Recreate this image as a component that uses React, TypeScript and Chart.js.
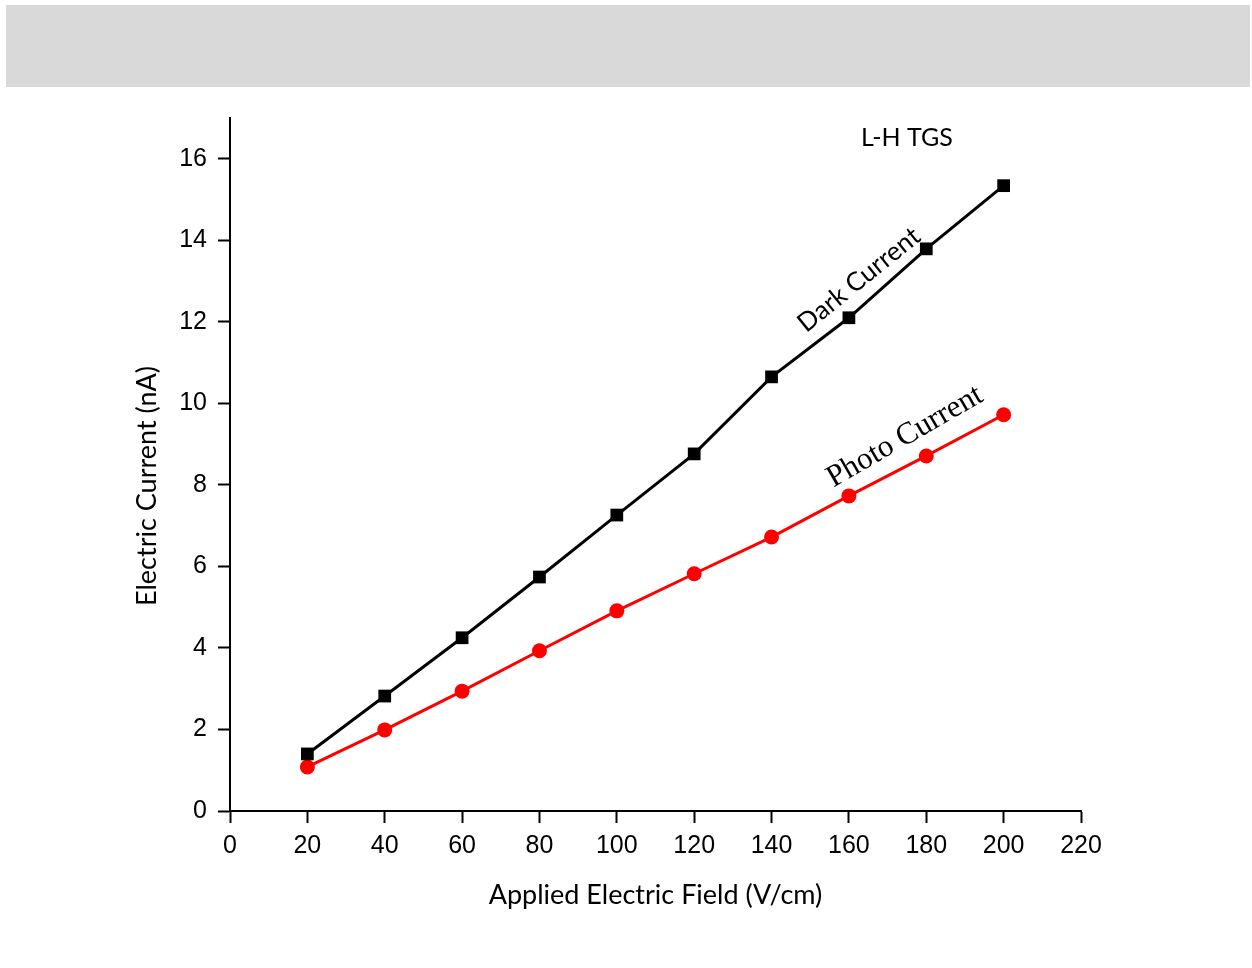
import React, { useEffect, useRef } from 'react';
import { Chart, registerables } from 'chart.js';

Chart.register(...registerables);

// ---- data ----
const fieldValues = [20, 40, 60, 80, 100, 120, 140, 160, 180, 200];
const darkCurrent = [1.4, 2.82, 4.25, 5.74, 7.26, 8.76, 10.65, 12.1, 13.79, 15.34];
const photoCurrent = [1.08, 1.99, 2.94, 3.93, 4.91, 5.82, 6.72, 7.73, 8.71, 9.72];
const xTickValues = [0, 20, 40, 60, 80, 100, 120, 140, 160, 180, 200, 220];
const yTickValues = [0, 2, 4, 6, 8, 10, 12, 14, 16];

const xTitle = 'Applied Electric Field (V/cm)';
const yTitle = 'Electric Current (nA)';
const seriesNames = ['Dark Current', 'Photo Current'];
const sampleName = 'L-H TGS';

const SANS = 'Lato, "Open Sans", sans-serif';
const TICKFONT = '"Liberation Sans", Arial, sans-serif';
const SERIF = '"Liberation Serif", "Times New Roman", serif';

const annotationPlugin = {
  id: 'annotations',
  afterDraw(chart: any) {
    const { ctx, scales } = chart;
    const xs = scales.x;
    const ys = scales.y;
    ctx.save();
    ctx.fillStyle = '#000';
    ctx.textAlign = 'center';
    ctx.textBaseline = 'middle';

    // y axis title
    ctx.save();
    ctx.translate(147, 486);
    ctx.rotate(-Math.PI / 2);
    ctx.font = '27px ' + SANS;
    ctx.fillText(yTitle, 0, 0);
    ctx.restore();

    // sample name
    ctx.font = '25px ' + SANS;
    ctx.fillText(sampleName, xs.getPixelForValue(175), ys.getPixelForValue(16.5));

    // Dark Current label
    ctx.save();
    ctx.translate(xs.getPixelForValue(162.6), ys.getPixelForValue(13.03));
    ctx.rotate((-39 * Math.PI) / 180);
    ctx.font = '26px ' + SANS;
    ctx.fillText(seriesNames[0], 0, 0);
    ctx.restore();

    // Photo Current label
    ctx.save();
    ctx.translate(xs.getPixelForValue(174.5), ys.getPixelForValue(9.18));
    ctx.rotate((-30 * Math.PI) / 180);
    ctx.font = '31px ' + SERIF;
    ctx.fillText(seriesNames[1], 0, 0);
    ctx.restore();

    ctx.restore();
  },
};

export default function App() {
  const ref = useRef<HTMLCanvasElement | null>(null);

  useEffect(() => {
    if (!ref.current) return;
    const chart = new Chart(ref.current, {
      type: 'line',
      data: {
        datasets: [
          {
            label: seriesNames[0],
            data: fieldValues.map((x, i) => ({ x, y: darkCurrent[i] })),
            borderColor: '#000000',
            backgroundColor: '#000000',
            borderWidth: 3,
            pointStyle: 'rect',
            pointRadius: 9,
            pointBorderWidth: 0,
            pointHoverRadius: 9,
          },
          {
            label: seriesNames[1],
            data: fieldValues.map((x, i) => ({ x, y: photoCurrent[i] })),
            borderColor: '#ff0000',
            backgroundColor: '#ff0000',
            borderWidth: 3,
            pointStyle: 'circle',
            pointRadius: 7.5,
            pointBorderWidth: 0,
            pointHoverRadius: 7.5,
          },
        ],
      },
      options: {
        responsive: false,
        animation: false,
        layout: { padding: { left: 0, top: 118, right: 171, bottom: 0 } },
        plugins: { legend: { display: false }, tooltip: { enabled: false } },
        scales: {
          x: {
            type: 'linear',
            min: 0,
            max: 220,
            afterBuildTicks: (s: any) => {
              s.ticks = xTickValues.map((v) => ({ value: v }));
            },
            afterFit: (s: any) => {
              s.height = 157;
            },
            grid: {
              drawOnChartArea: false,
              drawTicks: true,
              tickLength: 12,
              tickWidth: 2,
              tickColor: '#000',
            },
            border: { display: true, color: '#000', width: 2 },
            ticks: {
              color: '#000',
              font: { family: TICKFONT, size: 25 },
              padding: 8,
              maxRotation: 0,
              autoSkip: false,
            },
            title: {
              display: true,
              text: xTitle,
              color: '#000',
              font: { family: SANS, size: 27 },
              padding: { top: 0, bottom: 57 },
            },
          },
          y: {
            type: 'linear',
            min: 0,
            max: 17,
            afterBuildTicks: (s: any) => {
              s.ticks = yTickValues.map((v) => ({ value: v }));
            },
            afterFit: (s: any) => {
              s.width = 230;
            },
            grid: {
              drawOnChartArea: false,
              drawTicks: true,
              tickLength: 12,
              tickWidth: 2,
              tickColor: '#000',
            },
            border: { display: true, color: '#000', width: 2 },
            ticks: {
              color: '#000',
              font: { family: TICKFONT, size: 25 },
              padding: 11,
              autoSkip: false,
            },
            title: { display: false },
          },
        },
      },
      plugins: [annotationPlugin],
    });
    return () => chart.destroy();
  }, []);

  return (
    <div style={{ position: 'absolute', left: 0, top: 0, width: 1252, height: 968, background: '#ffffff' }}>
      <div style={{ position: 'absolute', left: 6, top: 5, width: 1244, height: 82, background: '#d9d9d9' }} />
      <canvas
        ref={ref}
        width={1252}
        height={968}
        style={{ position: 'absolute', left: 0, top: 0, width: 1252, height: 968, display: 'block' }}
      />
    </div>
  );
}
